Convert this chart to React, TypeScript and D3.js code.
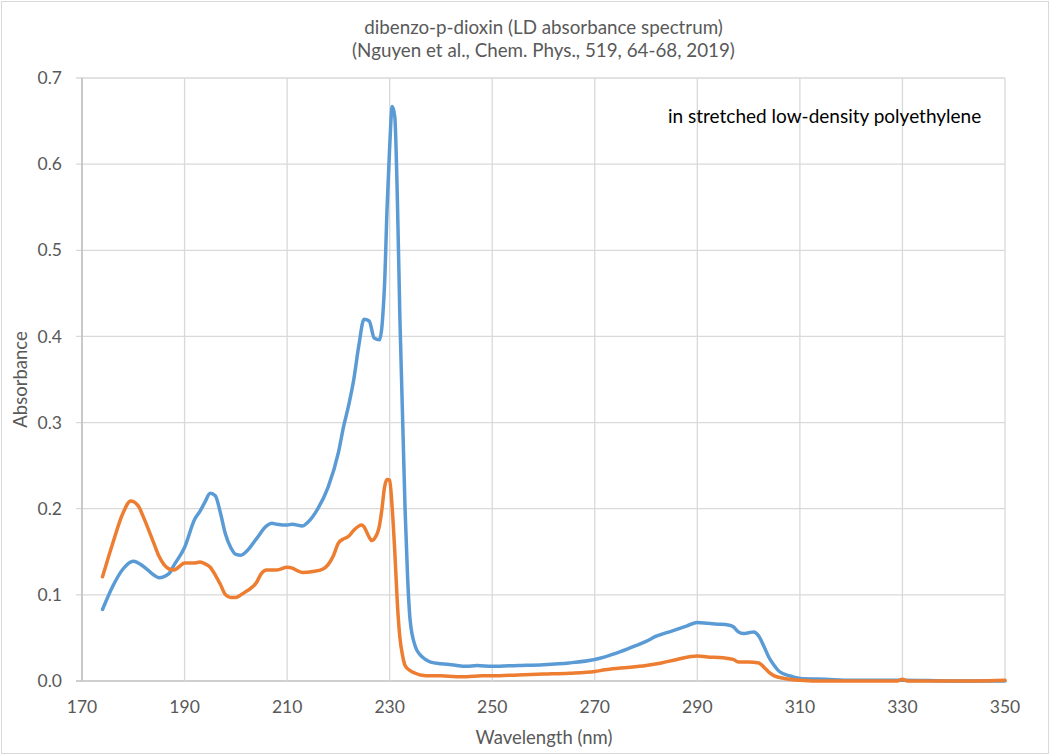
import React from "react";
import * as d3 from "d3";

const width = 1050;
const height = 755;
const margin = { top: 78, right: 45, bottom: 74, left: 82 };

// wavelength (nm) and LD absorbance
const blueNm = [174, 176, 178, 180, 182, 184, 185, 187, 188, 190, 192, 193, 194, 195, 196, 197, 198, 199, 200, 201, 202, 204, 206, 207, 208, 210, 211, 213, 214, 216, 218, 220, 221, 222, 223, 224, 225, 226, 227, 228, 229, 229.5, 230, 230.5, 231, 231.5, 232, 233, 233.5, 234, 235, 236, 237, 238, 240, 242, 245, 247, 250, 255, 260, 265, 270, 272, 275, 278, 280, 282, 285, 288, 290, 292, 294, 296, 297, 298, 299, 300, 301, 302, 303, 304, 305, 306, 308, 310, 315, 320, 330, 340, 350];
const blueAbs = [0.083, 0.11, 0.13, 0.139, 0.133, 0.123, 0.12, 0.125, 0.135, 0.155, 0.188, 0.197, 0.208, 0.218, 0.215, 0.195, 0.17, 0.155, 0.147, 0.146, 0.15, 0.165, 0.18, 0.183, 0.182, 0.181, 0.182, 0.18, 0.184, 0.2, 0.225, 0.265, 0.295, 0.32, 0.35, 0.39, 0.42, 0.418, 0.398, 0.396, 0.46, 0.55, 0.62, 0.667, 0.655, 0.56, 0.42, 0.2, 0.12, 0.07, 0.04, 0.03, 0.025, 0.022, 0.02, 0.019, 0.017, 0.018, 0.017, 0.018, 0.019, 0.021, 0.025, 0.028, 0.034, 0.041, 0.046, 0.052, 0.058, 0.064, 0.068, 0.067, 0.066, 0.065, 0.063, 0.057, 0.055, 0.056, 0.057, 0.052, 0.04, 0.027, 0.018, 0.011, 0.006, 0.003, 0.002, 0.001, 0.001, 0.0, 0.0];

const orangeNm = [174, 176, 178, 179.5, 181, 182, 184, 185, 186, 187, 188, 189, 190, 192, 193, 194, 195, 196, 197, 198, 199, 200, 201, 202, 204, 205, 206, 208, 210, 211, 212, 213, 215, 217, 218, 219, 220, 221, 222, 223, 224, 224.5, 225, 226, 226.5, 227, 228, 228.5, 229, 229.5, 230, 230.5, 231, 231.5, 232, 232.5, 233, 234, 235, 236, 238, 240, 243, 245, 248, 250, 255, 260, 265, 270, 272, 275, 280, 283, 286, 290, 292, 295, 297, 298, 300, 302, 303, 304, 305, 307, 310, 315, 329, 330, 331, 340, 350];
const orangeAbs = [0.121, 0.16, 0.195, 0.209, 0.203, 0.19, 0.16, 0.145, 0.135, 0.13, 0.129, 0.133, 0.137, 0.137, 0.138, 0.136, 0.132, 0.123, 0.112, 0.1, 0.097, 0.097, 0.1, 0.104, 0.114, 0.125, 0.129, 0.129, 0.132, 0.131, 0.128, 0.126, 0.127, 0.13, 0.135, 0.145, 0.16, 0.165, 0.168, 0.175, 0.18, 0.181, 0.179, 0.167, 0.163, 0.165, 0.18, 0.2, 0.225, 0.234, 0.233, 0.2, 0.15, 0.09, 0.05, 0.03, 0.018, 0.012, 0.009, 0.007, 0.006, 0.006, 0.005, 0.005, 0.006, 0.006, 0.007, 0.008, 0.009, 0.011, 0.013, 0.015, 0.018, 0.021, 0.025, 0.029, 0.028, 0.027, 0.025, 0.022, 0.022, 0.021, 0.016, 0.01, 0.006, 0.003, 0.001, 0.0, 0.0, 0.002, 0.0, 0.0, 0.001];

const xTicks = [170, 190, 210, 230, 250, 270, 290, 310, 330, 350];
const yTicks = [0, 0.1, 0.2, 0.3, 0.4, 0.5, 0.6, 0.7];

const titleLines = [
  "dibenzo-p-dioxin (LD absorbance spectrum)",
  "(Nguyen et al., Chem. Phys., 519, 64-68, 2019)",
];

const font = "Lato, 'Open Sans', sans-serif";
const gray = "#595959";

export default function App() {
  const x = d3.scaleLinear().domain([170, 350]).range([margin.left, width - margin.right]);
  const y = d3.scaleLinear().domain([0, 0.7]).range([height - margin.bottom, margin.top]);

  const line = d3
    .line<[number, number]>()
    .x((d) => x(d[0]))
    .y((d) => y(d[1]))
    .curve(d3.curveMonotoneX);

  const blue = line(blueNm.map((n, i) => [n, blueAbs[i]]));
  const orange = line(orangeNm.map((n, i) => [n, orangeAbs[i]]));

  const plotMidX = (x(170) + x(350)) / 2;

  return (
    <svg
      width={width}
      height={height}
      style={{ position: "absolute", left: 0, top: 0, background: "#fff" }}
      fontFamily={font}
    >
      <rect x={1.5} y={1.5} width={width - 3} height={height - 3} fill="#fff" stroke="#d9d9d9" />

      {/* gridlines */}
      {yTicks.map((t) => (
        <line key={"gy" + t} x1={x(170) - 6} x2={x(350)} y1={y(t)} y2={y(t)} stroke={t === 0 ? "#bfbfbf" : "#d9d9d9"} strokeWidth={t === 0 ? 1.5 : 1.3} />
      ))}
      {xTicks.map((t) => (
        <line key={"gx" + t} x1={x(t)} x2={x(t)} y1={y(0.7)} y2={y(0)} stroke="#d9d9d9" strokeWidth={1.3} />
      ))}
      <line x1={x(170)} x2={x(170)} y1={y(0.7)} y2={y(0)} stroke="#bfbfbf" strokeWidth={1.5} />

      {/* tick labels */}
      {yTicks.map((t) => (
        <text key={"ty" + t} x={62} y={y(t)} dy="0.35em" textAnchor="end" fontSize={17.5} fill={gray}>
          {t.toFixed(1)}
        </text>
      ))}
      {xTicks.map((t) => (
        <text key={"tx" + t} x={x(t)} y={713} textAnchor="middle" fontSize={17.5} fill={gray}>
          {t}
        </text>
      ))}

      {/* series */}
      <path d={blue ?? ""} fill="none" stroke="#5B9BD5" strokeWidth={3.5} strokeLinejoin="round" strokeLinecap="round" />
      <path d={orange ?? ""} fill="none" stroke="#ED7D31" strokeWidth={3.5} strokeLinejoin="round" strokeLinecap="round" />

      {/* titles */}
      {titleLines.map((s, i) => (
        <text key={s} x={plotMidX} y={34 + i * 23} textAnchor="middle" fontSize={18.8} fill={gray}>
          {s}
        </text>
      ))}
      <text x={544} y={744} textAnchor="middle" fontSize={18.5} fill={gray}>
        Wavelength (nm)
      </text>
      <text transform={`translate(27,${(y(0) + y(0.7)) / 2}) rotate(-90)`} textAnchor="middle" fontSize={18.5} fill={gray}>
        Absorbance
      </text>
      <text x={668} y={123} fontSize={19} fill="#000">
        in stretched low-density polyethylene
      </text>
    </svg>
  );
}
